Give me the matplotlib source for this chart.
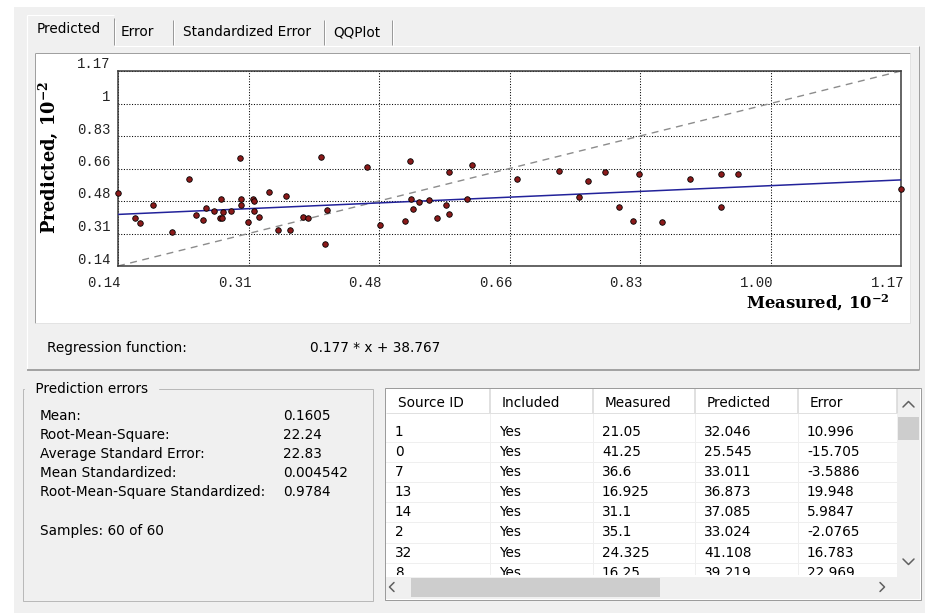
import matplotlib
matplotlib.use("Agg")
import matplotlib.pyplot as plt
import matplotlib.transforms as mtransforms
import numpy as np
from matplotlib.patches import Rectangle

# Cross-validation results (data units; the chart shows them scaled by 1e-2).
# The first eight entries are the rows listed in the table below the chart.
MEASURED = [21.05, 41.25, 36.6, 16.925, 31.1, 35.1, 24.325, 16.25,
            14.0, 18.6, 23.3, 25.2, 25.6, 26.6, 27.4, 27.6, 27.7, 27.8,
            28.9, 30.1, 30.2, 30.2, 31.8, 31.9, 31.9, 32.6, 33.8, 36.1,
            38.4, 39.0, 40.7, 41.5, 46.8, 48.5, 51.8, 52.4, 52.6, 52.8,
            53.6, 54.9, 55.9, 57.2, 57.6, 57.6, 59.9, 60.6, 66.5, 72.0,
            74.7, 75.8, 78.0, 79.9, 81.7, 82.6, 85.6, 89.3, 93.3, 93.3,
            95.6, 117.0]
PREDICTED = [32.046, 25.545, 33.011, 36.873, 37.085, 33.024, 41.108, 39.219,
             52.8, 46.3, 60.2, 38.5, 44.9, 43.1, 39.6, 49.5, 39.2, 42.6,
             43.1, 71.3, 49.5, 46.3, 49.3, 48.4, 43.1, 40.1, 53.3, 50.9,
             40.1, 39.2, 71.8, 43.8, 66.5, 35.4, 37.8, 69.7, 49.5, 44.0,
             48.0, 48.6, 39.4, 46.3, 63.4, 41.7, 49.5, 67.2, 59.7, 64.3,
             50.2, 58.8, 63.5, 45.4, 37.8, 62.7, 37.0, 59.7, 62.7, 45.4,
             62.7, 54.9]
SOURCE_ID = [1, 0, 7, 13, 14, 2, 32, 8]
INCLUDED = ["Yes"] * 8
ERROR = [10.996, -15.705, -3.5886, 19.948, 5.9847, -2.0765, 16.783, 22.969]

REG_SLOPE = 0.177
REG_INTERCEPT = 38.767
SCALE = 1e-2

AXIS_RANGE = (0.14, 1.17)
X_TICK_LABELS = ["0.14", "0.31", "0.48", "0.66", "0.83", "1.00", "1.17"]
Y_TICK_LABELS = ["0.14", "0.31", "0.48", "0.66", "0.83", "1", "1.17"]

STAT_LABELS = ["Mean:", "Root-Mean-Square:", "Average Standard Error:",
               "Mean Standardized:", "Root-Mean-Square Standardized:"]
STAT_VALUES = [0.1605, 22.24, 22.83, 0.004542, 0.9784]
N_USED, N_TOTAL = 60, 60

TABS = ["Predicted", "Error", "Standardized Error", "QQPlot"]
TABLE_COLUMNS = ["Source ID", "Included", "Measured", "Predicted", "Error"]

W, H = 925, 613
BG = "#f0f0f0"
UI_FONT = "DejaVu Sans"
UI_SIZE = 9.8

fig = plt.figure(figsize=(W / 100, H / 100), dpi=100)
fig.patch.set_facecolor("white")
plt.rcParams["mathtext.fontset"] = "dejavuserif"

# window background, drawn in pixel coordinates (origin top-left)
bg = fig.add_axes([0, 0, 1, 1])
bg.set_xlim(0, W)
bg.set_ylim(H, 0)
bg.axis("off")


def px_ax(x0, y0, x1, y1):
    return [x0 / W, (H - y1) / H, (x1 - x0) / W, (y1 - y0) / H]


def line(xs, ys, color, lw=1.0, ax=None):
    (ax or bg).plot(xs, ys, color=color, lw=lw * 0.72, solid_capstyle="butt")


def box(x0, y0, x1, y1, face, edge="none", lw=1.0):
    bg.add_patch(Rectangle((x0, y0), x1 - x0, y1 - y0, facecolor=face,
                           edgecolor=edge, linewidth=lw * 0.72))


def label(x, y, s, ax=None, **kw):
    return (ax or bg).text(x, y, s, family=UI_FONT, fontsize=UI_SIZE,
                           va="center", color="black", **kw)


box(14, 7, W, H, BG)

# tab strip
tab_edges = [27, 114, 173, 324, 392]
tab_text_x = [37, 121, 183, 333]
for i, name in enumerate(TABS):
    label(tab_text_x[i], 29 if i == 0 else 32, name)
for x in tab_edges[1:]:
    line([x, x], [18 if x == 114 else 20, 45], "#9a9a9a")
    line([x + 1, x + 1], [20, 45], "white")
line([27, 27], [15, 370], "white", 1.2)
line([27, 114], [15, 15], "white")
line([114, 919], [46, 46], "white")
line([919, 919], [46, 370], "#a0a0a0")
line([27, 919], [369.5, 369.5], "#8a8a8a", 1.5)

# chart panel
box(35, 53, 910, 323, "white")
line([35, 910], [53, 53], "#a0a0a0")
line([35, 35], [53, 323], "#a0a0a0")
line([910, 910], [53, 323], "#e3e3e3")
line([35, 910], [323, 323], "#e3e3e3")

label(47, 348, "Regression function:")
label(310, 348, f"{REG_SLOPE:g} * x + {REG_INTERCEPT:g}")

# prediction errors group
bg.add_patch(Rectangle((23, 389), 350, 212, facecolor="none",
                       edgecolor="#b9b9b9", linewidth=0.72))
label(31, 389, " Prediction errors ", backgroundcolor=BG)
for i, (name, val) in enumerate(zip(STAT_LABELS, STAT_VALUES)):
    y = 416 + i * 19
    label(40, y, name)
    label(283, y, f"{val:.4g}")
label(40, 531, f"Samples: {N_USED} of {N_TOTAL}")

# results list
col_edges = [386, 490, 593, 695, 798, 897]
box(385, 388, 921, 600, "white", "#9c9c9c")
for i, name in enumerate(TABLE_COLUMNS):
    label(col_edges[i] + 12, 403, name)
for x in col_edges[1:]:
    line([x, x], [389, 413], "#d6d6d6", 1.5)
line([386, 897], [413, 413], "#e0e0e0")

# list rows live in their own axes so the last row is cut by the scroll bar
tb = fig.add_axes(px_ax(386, 414, 897, 574.5))
tb.set_xlim(386, 897)
tb.set_ylim(574.5, 414)
tb.axis("off")
row_h = 20.2
for r in range(len(SOURCE_ID)):
    yc = 431.5 + r * row_h
    cells = [str(SOURCE_ID[r]), INCLUDED[r], f"{MEASURED[r]:.5g}",
             f"{PREDICTED[r]:.5g}", f"{ERROR[r]:.5g}"]
    for c, txt in enumerate(cells):
        t = label(col_edges[c] + 9, yc, txt, ax=tb)
        t.set_clip_box(tb.bbox)
        t.set_clip_on(True)
    tb.plot([386, 897], [yc + row_h / 2] * 2, color="#efefef", lw=0.72)
for x in col_edges[1:-1]:
    tb.plot([x, x], [414, 577], color="#efefef", lw=0.72)

# scroll bars
box(897, 389, 920, 577, BG)
box(898, 417, 919, 440, "#cdcdcd")
box(386, 577, 897, 599, BG)
box(411, 578, 660, 597, "#cdcdcd")
box(897, 577, 920, 599, BG)
arrow = dict(color="#606060", lw=1.1, solid_capstyle="round")
bg.plot([903, 908.5, 914], [407, 401.5, 407], **arrow)
bg.plot([903, 908.5, 914], [559, 564.5, 559], **arrow)
bg.plot([394, 389.5, 394], [582.5, 587, 591.5], **arrow)
bg.plot([880, 884.5, 880], [582.5, 587, 591.5], **arrow)

# scatter plot
ax = fig.add_axes(px_ax(118, 71, 901, 266))
ax.set_facecolor("white")
lo, hi = AXIS_RANGE
ax.set_xlim(lo, hi)
ax.set_ylim(lo, hi)
ticks = np.linspace(lo, hi, len(X_TICK_LABELS))
ax.set_xticks(ticks)
ax.set_yticks(ticks)
ax.set_xticklabels(X_TICK_LABELS, family="Liberation Mono", fontsize=10,
                   ha="right", color="#222222")
ax.set_yticklabels(Y_TICK_LABELS, family="Liberation Mono", fontsize=10,
                   color="#222222")
ax.tick_params(axis="both", length=0)
ax.tick_params(axis="x", pad=7)
ax.tick_params(axis="y", pad=5.5)
for t in ax.get_xticklabels():
    t.set_transform(t.get_transform() + mtransforms.ScaledTranslation(0.03, 0, fig.dpi_scale_trans))
for t in ax.get_yticklabels():
    t.set_transform(t.get_transform() + mtransforms.ScaledTranslation(0, 0.08, fig.dpi_scale_trans))
for s in ax.spines.values():
    s.set_color("#3a3a3a")
    s.set_linewidth(1.1)
ax.grid(True, color="black", linestyle=(0, (1, 1.6)), linewidth=0.75)
ax.set_axisbelow(True)

ax.plot([lo, hi], [lo, hi], color="#8c8c8c", linestyle=(0, (5, 4)), lw=1.0, zorder=2)
reg_x = np.array([lo, hi])
ax.plot(reg_x, (REG_SLOPE * reg_x / SCALE + REG_INTERCEPT) * SCALE,
        color="#22229a", lw=1.1, zorder=3)
ax.scatter(np.array(MEASURED) * SCALE, np.array(PREDICTED) * SCALE, s=16,
           facecolor="#8b1a1a", edgecolor="black", linewidth=0.6,
           zorder=4, clip_on=False)

bg.text(48, 157, r"Predicted, $\mathbf{10^{-2}}$", rotation=90, ha="center",
        va="center", family="DejaVu Serif", weight="bold", fontsize=12.8)
bg.text(890, 303, r"Measured, $\mathbf{10^{-2}}$", ha="right", va="center",
        family="DejaVu Serif", weight="bold", fontsize=11.8)

fig.savefig("out.png", dpi=100)
